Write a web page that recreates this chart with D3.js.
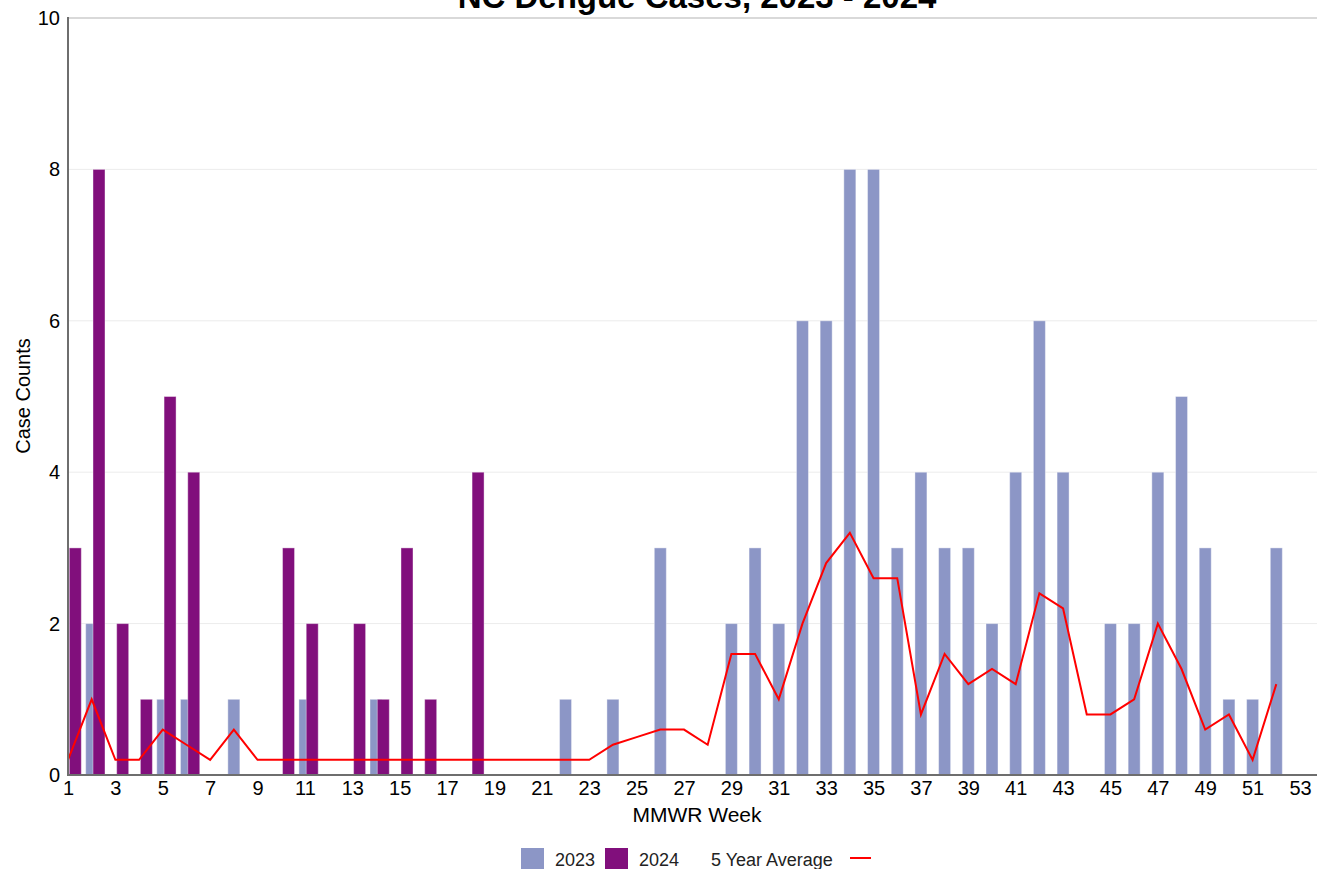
<!DOCTYPE html>
<html>
<head>
<meta charset="utf-8">
<title>NC Dengue Cases, 2023 - 2024</title>
<script src="https://cdn.jsdelivr.net/npm/d3@7"></script>
<style>
    body { margin: 0; background: #ffffff; overflow: hidden; }
    svg { display: block; font-family: "Liberation Sans", Arial, sans-serif; }
</style>
</head>
<body>
<div id="wrapper"></div>
<script>
// veckor 1-52, fall per vecka
const weeks = d3.range(1, 53);

const cases2023 = [0, 2, 0, 0, 1, 1, 0, 1, 0, 0, 1, 0, 0, 1, 0, 0, 0, 0, 0, 0, 0, 1, 0, 1, 0, 3,
    0, 0, 2, 3, 2, 6, 6, 8, 8, 3, 4, 3, 3, 2, 4, 6, 4, 0, 2, 2, 4, 5, 3, 1, 1, 3];

const cases2024 = [3, 8, 2, 1, 5, 4, 0, 0, 0, 3, 2, 0, 2, 1, 3, 1, 0, 4, 0, 0, 0, 0, 0, 0, 0, 0,
    0, 0, 0, 0, 0, 0, 0, 0, 0, 0, 0, 0, 0, 0, 0, 0, 0, 0, 0, 0, 0, 0, 0, 0, 0, 0];

const fiveYearAvg = [0.2, 1.0, 0.2, 0.2, 0.6, 0.4, 0.2, 0.6, 0.2, 0.2, 0.2, 0.2, 0.2, 0.2, 0.2, 0.2,
    0.2, 0.2, 0.2, 0.2, 0.2, 0.2, 0.2, 0.4, 0.5, 0.6, 0.6, 0.4, 1.6, 1.6, 1.0, 2.0, 2.8, 3.2, 2.6, 2.6,
    0.8, 1.6, 1.2, 1.4, 1.2, 2.4, 2.2, 0.8, 0.8, 1.0, 2.0, 1.4, 0.6, 0.8, 0.2, 1.2];

const xTicks = d3.range(1, 54, 2);
const yTicks = [0, 2, 4, 6, 8, 10];

const seriesNames = ["2023", "2024", "5 Year Average"];
const colors = { "2023": "#8c96c6", "2024": "#810f7c", "5 Year Average": "#ff0000" };


function dengueChart(parent) {

    const wsvg = 1317;
    const hsvg = 869;

    const left = 68;
    const right = 1300;
    const top = 18;
    const bottom = 775;

    const svg = d3.select(parent).append("svg")
        .attr("width", wsvg)
        .attr("height", hsvg)
        .attr("viewBox", `0 0 ${wsvg} ${hsvg}`);

    const xScale = d3.scaleLinear([1, 53], [left, right]);
    const yScale = d3.scaleLinear([0, 10], [bottom, top]);

    const barWidth = 12;

    //GRIDLINES
    svg.append("g")
        .selectAll("line")
        .data(yTicks.filter(d => d > 0))
        .enter()
        .append("line")
        .attr("x1", left)
        .attr("x2", wsvg)
        .attr("y1", d => yScale(d))
        .attr("y2", d => yScale(d))
        .attr("stroke", d => d === 10 ? "#d9d9d9" : "#ececec")
        .attr("stroke-width", d => d === 10 ? 2 : 1);

    //STAPLAR 2023
    svg.append("g")
        .selectAll("rect")
        .data(weeks.map((w, i) => ({ week: w, value: cases2023[i] })).filter(d => d.value > 0))
        .enter()
        .append("rect")
        .attr("x", d => xScale(d.week) - barWidth / 2)
        .attr("y", d => yScale(d.value))
        .attr("width", barWidth)
        .attr("height", d => yScale(0) - yScale(d.value))
        .attr("fill", colors["2023"])
        .attr("stroke", "rgba(255,255,255,0.4)")
        .attr("stroke-width", 1);

    //STAPLAR 2024
    svg.append("g")
        .selectAll("rect")
        .data(weeks.map((w, i) => ({ week: w, value: cases2024[i] })).filter(d => d.value > 0))
        .enter()
        .append("rect")
        .attr("x", d => Math.max(left, xScale(d.week) + 7.3 - barWidth / 2))
        .attr("y", d => yScale(d.value))
        .attr("width", d => xScale(d.week) + 7.3 + barWidth / 2 - Math.max(left, xScale(d.week) + 7.3 - barWidth / 2))
        .attr("height", d => yScale(0) - yScale(d.value))
        .attr("fill", colors["2024"])
        .attr("stroke", "rgba(255,255,255,0.4)")
        .attr("stroke-width", 1);

    //LINJE 5-ÅRS SNITT
    const line = d3.line()
        .x(d => xScale(d.week))
        .y(d => yScale(d.value));

    svg.append("path")
        .datum(weeks.map((w, i) => ({ week: w, value: fiveYearAvg[i] })))
        .attr("d", line)
        .attr("fill", "none")
        .attr("stroke", colors["5 Year Average"])
        .attr("stroke-width", 2)
        .attr("stroke-linejoin", "miter");

    //AXLAR
    const xAxis = d3.axisBottom(xScale).tickValues(xTicks).tickSize(0).tickPadding(6);
    const yAxis = d3.axisLeft(yScale).tickValues(yTicks).tickSize(0).tickPadding(8);

    const xAxisGroup = svg.append("g")
        .attr("transform", `translate(0, ${bottom})`)
        .call(xAxis);
    xAxisGroup.select(".domain").remove();
    xAxisGroup.selectAll("text")
        .attr("font-size", 20)
        .attr("fill", "#000")
        .attr("font-family", "Liberation Sans, Arial, sans-serif");

    const yAxisGroup = svg.append("g")
        .attr("transform", `translate(${left}, 0)`)
        .call(yAxis);
    yAxisGroup.select(".domain").remove();
    yAxisGroup.selectAll("text")
        .attr("font-size", 20)
        .attr("fill", "#000")
        .attr("font-family", "Liberation Sans, Arial, sans-serif");

    svg.append("line")
        .attr("x1", left)
        .attr("x2", left)
        .attr("y1", top - 1)
        .attr("y2", bottom + 1)
        .attr("stroke", "#6e6e6e")
        .attr("stroke-width", 2);

    svg.append("line")
        .attr("x1", left - 1)
        .attr("x2", wsvg)
        .attr("y1", bottom)
        .attr("y2", bottom)
        .attr("stroke", "#6e6e6e")
        .attr("stroke-width", 2);

    //TITLAR
    svg.append("text")
        .attr("x", 697)
        .attr("y", 8)
        .attr("text-anchor", "middle")
        .attr("font-size", 33)
        .attr("font-weight", "bold")
        .attr("fill", "#000")
        .text("NC Dengue Cases, 2023 - 2024");

    svg.append("text")
        .attr("x", 697)
        .attr("y", 822)
        .attr("text-anchor", "middle")
        .attr("font-size", 21)
        .attr("fill", "#000")
        .text("MMWR Week");

    svg.append("text")
        .attr("transform", `translate(30, 396) rotate(-90)`)
        .attr("text-anchor", "middle")
        .attr("font-size", 20)
        .attr("fill", "#000")
        .text("Case Counts");

    //LEGEND
    const legend = svg.append("g");

    legend.append("rect")
        .attr("x", 521).attr("y", 848).attr("width", 23).attr("height", 23)
        .attr("fill", colors["2023"]);
    legend.append("text")
        .attr("x", 555).attr("y", 866)
        .attr("font-size", 18).attr("fill", "#222")
        .text(seriesNames[0]);

    legend.append("rect")
        .attr("x", 605).attr("y", 848).attr("width", 23).attr("height", 23)
        .attr("fill", colors["2024"]);
    legend.append("text")
        .attr("x", 639).attr("y", 866)
        .attr("font-size", 18).attr("fill", "#222")
        .text(seriesNames[1]);

    legend.append("text")
        .attr("x", 711).attr("y", 866)
        .attr("font-size", 18).attr("fill", "#222")
        .text(seriesNames[2]);
    legend.append("line")
        .attr("x1", 850).attr("x2", 871)
        .attr("y1", 858).attr("y2", 858)
        .attr("stroke", colors["5 Year Average"])
        .attr("stroke-width", 2);
}

dengueChart(document.querySelector("#wrapper"));
</script>
</body>
</html>
